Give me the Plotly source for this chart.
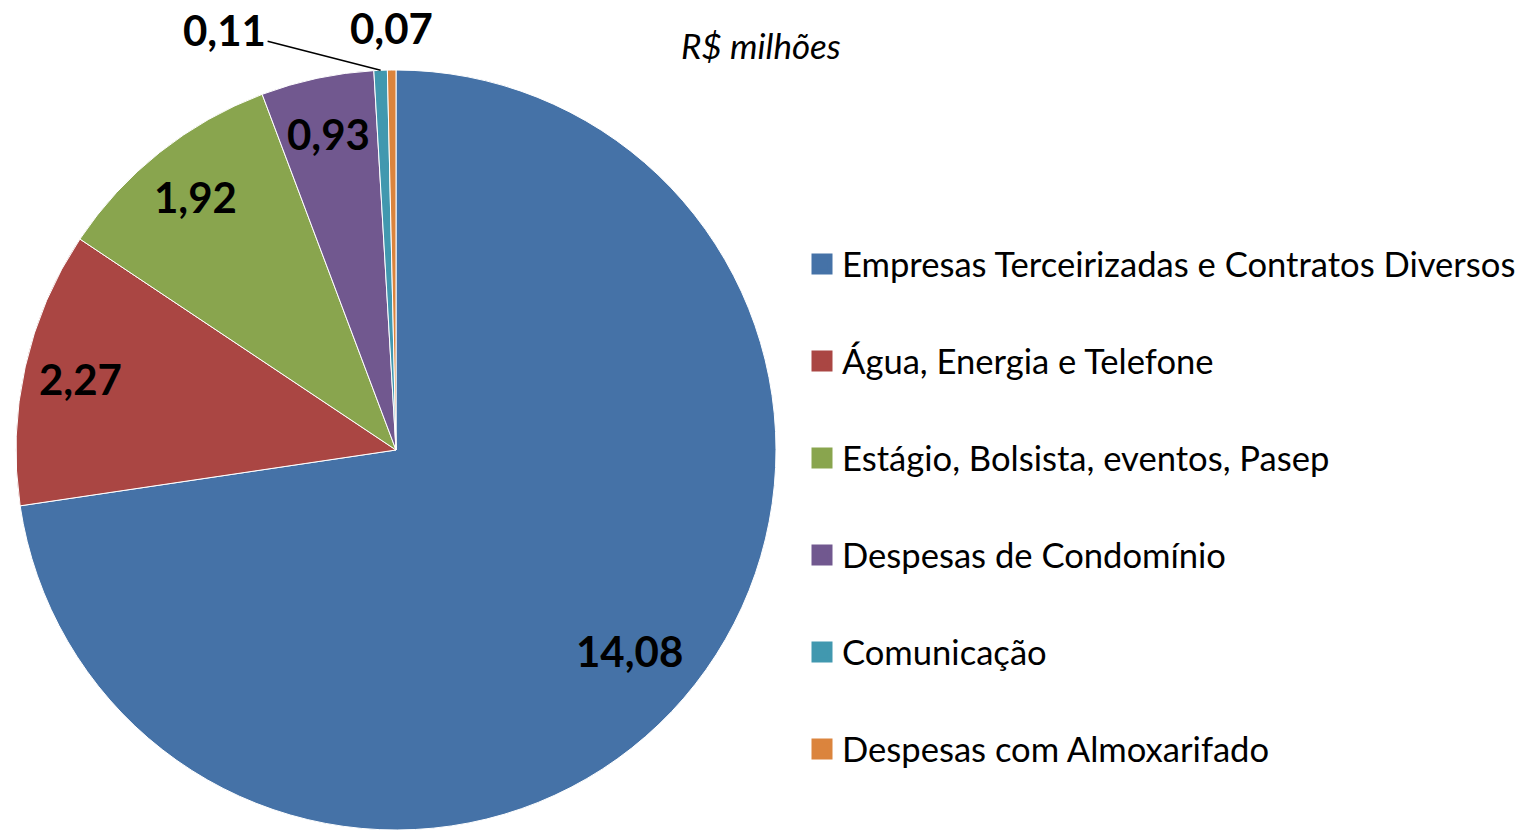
import math
import plotly.graph_objects as go

categories = [
    "Empresas Terceirizadas e Contratos Diversos",
    "Água, Energia e Telefone",
    "Estágio, Bolsista, eventos, Pasep",
    "Despesas de Condomínio",
    "Comunicação",
    "Despesas com Almoxarifado",
]
values = [14.08, 2.27, 1.92, 0.93, 0.11, 0.07]
value_labels = ["14,08", "2,27", "1,92", "0,93", "0,11", "0,07"]
colors = ["#4572A7", "#AA4643", "#89A54E", "#71588F", "#4198AF", "#DB843D"]

W, H = 1534, 830
FONT = "Lato"

# pie geometry (pixels)
cx_px, cy_px, r_px = 396, 450, 380
dom_x = [(cx_px - r_px) / W, (cx_px + r_px) / W]
dom_y = [(H - cy_px - r_px) / H, (H - cy_px + r_px) / H]

fig = go.Figure()
fig.add_trace(go.Pie(
    labels=categories, values=values, sort=False, direction="clockwise", rotation=0,
    marker=dict(colors=colors, line=dict(color="white", width=1)),
    textinfo="none", showlegend=False, domain=dict(x=dom_x, y=dom_y),
    hovertemplate="%{label}: %{value}<extra></extra>",
))

# legend via dummy traces (one group each, for spacing)
for cat, col in zip(categories, colors):
    fig.add_trace(go.Scatter(
        x=[None], y=[None], mode="markers", name=cat, legendgroup=cat,
        marker=dict(symbol="square", size=16, color=col, line=dict(color=col, width=5)),
        showlegend=True,
    ))

LBL = dict(family=FONT, size=42, color="black")

# value labels placed at slice mid-angles
total = sum(values)
cum = 0.0
annotations = []
for i, (v, lab) in enumerate(zip(values, value_labels)):
    mid = (cum + v / 2) / total * 2 * math.pi
    cum += v
    if i < 4:
        rr = (0.81 if i == 0 else 0.85) * r_px
        px = cx_px + rr * math.sin(mid)
        py = cy_px - rr * math.cos(mid)
        annotations.append(dict(x=px / W, y=1 - py / H, xref="paper", yref="paper",
                                xanchor="center", yanchor="middle",
                                text=f"<b>{lab}</b>", showarrow=False, font=LBL))
    else:
        ex = cx_px + r_px * math.sin(mid)
        ey = cy_px - r_px * math.cos(mid)
        if i == 4:
            annotations.append(dict(x=ex / W, y=1 - ey / H, xref="paper", yref="paper",
                                    text=f"<b>{lab}</b>", showarrow=True, arrowhead=0,
                                    arrowwidth=1.5, arrowcolor="black",
                                    ax=-156, ay=-40, standoff=0, font=LBL))
        else:
            annotations.append(dict(x=ex / W, y=1 - ey / H, xref="paper", yref="paper",
                                    xanchor="center", yanchor="middle",
                                    text=f"<b>{lab}</b>", showarrow=False, yshift=42,
                                    font=LBL))

annotations.append(dict(x=761 / W, y=1 - 45 / H, xref="paper", yref="paper",
                        xanchor="center", yanchor="middle",
                        text="<i>R$ milhões</i>", showarrow=False,
                        font=dict(family=FONT, size=35, color="black")))

fig.update_layout(
    width=W, height=H, margin=dict(l=0, r=0, t=0, b=0),
    paper_bgcolor="white", plot_bgcolor="white",
    xaxis=dict(visible=False), yaxis=dict(visible=False),
    annotations=annotations,
    legend=dict(x=802 / W, y=1 - 235 / H, xanchor="left", yanchor="top",
                font=dict(family=FONT, size=34.6, color="black"),
                tracegroupgap=49, itemclick=False, itemdoubleclick=False,
                bgcolor="rgba(0,0,0,0)"),
    showlegend=True,
)

fig.write_html("out.html", config={"displayModeBar": False},
               post_script="document.body.style.margin='0';document.body.style.overflow='hidden';")
